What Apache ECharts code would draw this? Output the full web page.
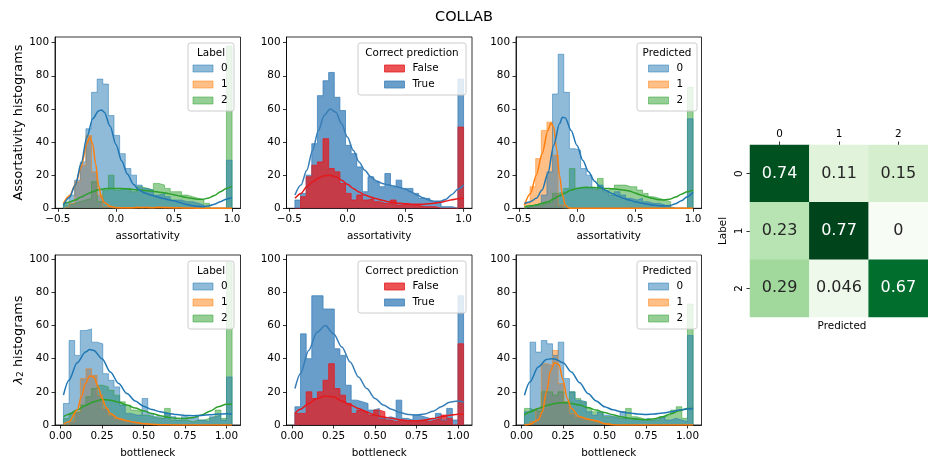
<!DOCTYPE html>
<html>
<head>
<meta charset="utf-8">
<title>COLLAB</title>
<script src="https://cdn.jsdelivr.net/npm/echarts@6/dist/echarts.min.js"></script>
<style>
  html, body { margin: 0; padding: 0; background: #fff; }
  #chart { width: 928px; height: 460px; }
</style>
</head>
<body>
<div id="chart"></div>
<script>
// bins: every assortativity panel shares one set of bins, every bottleneck panel another
const assortBinStart = -0.452;
const assortBinWidth = 0.0484;
const bottleBinStart = 0.017;
const bottleBinWidth = 0.0339;

// assortativity histograms (30 bins)
const assortLabel0 = [3, 8, 17, 28, 48, 70, 78, 75, 56, 44, 33, 24, 20, 14, 12, 11, 8, 9, 7, 5, 5, 4, 4, 3, 2, 0, 0, 0, 0, 29];
const assortLabel1 = [1, 3, 16, 26, 44, 22, 8, 1, 0, 0, 0, 0, 1, 0, 1, 0, 1, 0, 0, 0, 0, 0, 0, 0, 0, 0, 0, 0, 0, 0];
const assortLabel2 = [2, 3, 4, 5, 6, 16, 4, 11, 20, 11, 12, 12, 10, 13, 12, 11, 15, 14, 12, 10, 10, 8, 7, 6, 5, 3, 0, 0, 0, 98];
const assortFalse = [0, 7, 19, 26, 28, 42, 24, 22, 15, 9, 5, 8, 5, 6, 4, 3, 3, 5, 2, 3, 2, 2, 1, 1, 1, 0, 0, 0, 0, 49];
const assortTrue = [5, 9, 20, 39, 68, 77, 82, 67, 59, 38, 33, 25, 10, 19, 16, 13, 21, 13, 17, 12, 12, 9, 6, 6, 4, 3, 1, 1, 0, 78];
const assortPred0 = [1, 2, 3, 8, 22, 69, 93, 70, 36, 35, 24, 20, 12, 14, 10, 8, 10, 8, 6, 5, 6, 4, 3, 3, 2, 1, 0, 0, 0, 54];
const assortPred1 = [3, 13, 30, 47, 52, 32, 2, 0, 0, 0, 0, 0, 0, 0, 0, 0, 0, 0, 0, 0, 0, 0, 0, 0, 0, 0, 0, 0, 0, 0];
const assortPred2 = [1, 2, 2, 3, 4, 9, 10, 12, 24, 12, 13, 12, 11, 18, 11, 12, 14, 14, 13, 13, 11, 9, 7, 6, 5, 4, 0, 0, 0, 73];

// bottleneck histograms (30 bins)
const bottleLabel0 = [13, 51, 42, 57, 58, 50, 49, 31, 27, 23, 12, 7, 6, 6, 16, 7, 5, 4, 7, 5, 3, 5, 4, 5, 3, 2, 5, 6, 3, 29];
const bottleLabel1 = [0, 2, 8, 28, 34, 30, 18, 10, 6, 4, 3, 2, 1, 1, 1, 0, 0, 0, 0, 0, 0, 0, 0, 0, 0, 0, 0, 0, 0, 0];
const bottleLabel2 = [4, 7, 8, 12, 17, 22, 24, 23, 21, 18, 14, 12, 9, 8, 6, 5, 4, 4, 10, 3, 3, 3, 2, 3, 3, 4, 5, 9, 4, 98];
const bottleFalse = [7, 7, 20, 16, 20, 27, 37, 22, 18, 13, 7, 9, 8, 6, 9, 8, 3, 2, 3, 2, 2, 2, 3, 2, 3, 4, 6, 4, 0, 49];
const bottleTrue = [11, 55, 40, 78, 78, 70, 70, 46, 42, 24, 15, 14, 13, 9, 10, 4, 5, 4, 15, 4, 3, 6, 5, 4, 4, 7, 3, 10, 3, 78];
const bottlePred0 = [8, 50, 44, 51, 49, 42, 50, 28, 20, 15, 14, 8, 6, 8, 6, 5, 5, 8, 4, 4, 3, 4, 3, 4, 5, 3, 4, 3, 2, 54];
const bottlePred1 = [0, 2, 10, 37, 36, 45, 25, 14, 7, 5, 4, 3, 2, 1, 1, 0, 0, 0, 0, 0, 0, 0, 0, 0, 0, 0, 0, 0, 0, 0];
const bottlePred2 = [10, 9, 8, 20, 20, 18, 20, 14, 20, 16, 14, 10, 8, 7, 5, 5, 4, 4, 10, 5, 4, 3, 3, 3, 5, 6, 9, 11, 4, 73];

// kde curves, [x, count-scaled density]
const kdeAssortLabel0 = [[-0.452, 2], [-0.4, 6.5], [-0.35, 14], [-0.3, 27], [-0.25, 43], [-0.2, 54], [-0.15, 58.8], [-0.125, 59.4], [-0.1, 58], [-0.05, 49.5], [0, 38.5], [0.05, 28.5], [0.1, 20.5], [0.15, 14.5], [0.2, 11], [0.25, 9.2], [0.3, 8], [0.35, 7], [0.4, 6], [0.45, 5.2], [0.5, 4.5], [0.55, 3.5], [0.6, 2.5], [0.65, 1.7], [0.7, 1.2], [0.75, 1.1], [0.8, 1.5], [0.85, 2.5], [0.9, 4], [0.95, 5.5], [1.0, 6.5]];
const kdeAssortLabel1 = [[-0.452, 3], [-0.4, 7.5], [-0.35, 14], [-0.3, 25], [-0.25, 39], [-0.225, 43], [-0.2, 39], [-0.175, 27], [-0.15, 14], [-0.125, 6.5], [-0.1, 3.5], [-0.05, 1.2], [0, 0.5], [0.1, 0.3], [0.2, 0.5], [0.3, 0.4], [0.4, 0.5], [0.5, 0.4], [0.6, 0.2], [0.7, 0.1], [0.8, 0], [1.0, 0]];
const kdeAssortLabel2 = [[-0.452, 2.6], [-0.4, 3.8], [-0.35, 5], [-0.3, 6.8], [-0.25, 8.5], [-0.2, 10], [-0.15, 11.2], [-0.1, 11.8], [-0.05, 12], [0, 12], [0.05, 11.9], [0.1, 11.7], [0.15, 11.4], [0.2, 11.1], [0.25, 10.8], [0.3, 10.4], [0.35, 10], [0.4, 9.5], [0.45, 8.9], [0.5, 8.2], [0.55, 7.4], [0.6, 6.6], [0.65, 6], [0.7, 5.5], [0.75, 5.5], [0.8, 6.2], [0.85, 7.8], [0.9, 10], [0.95, 12], [1.0, 13.4]];
const kdeAssortFalse = [[-0.452, 6], [-0.4, 9], [-0.35, 13], [-0.3, 16], [-0.25, 18.3], [-0.2, 19.7], [-0.15, 20], [-0.1, 19], [-0.05, 17], [0, 14.5], [0.05, 12], [0.1, 9.8], [0.15, 8], [0.2, 6.8], [0.25, 5.8], [0.3, 4.8], [0.35, 4], [0.4, 3.4], [0.45, 3], [0.5, 2.7], [0.55, 2.5], [0.6, 2.4], [0.65, 2.5], [0.7, 2.7], [0.75, 3], [0.8, 3.6], [0.85, 4.4], [0.9, 5.2], [0.95, 5.8], [1.0, 6]];
const kdeAssortTrue = [[-0.452, 8], [-0.4, 14], [-0.35, 23], [-0.3, 35], [-0.25, 47], [-0.2, 56], [-0.15, 60], [-0.1, 58], [-0.05, 51], [0, 43], [0.05, 35], [0.1, 28], [0.15, 23], [0.2, 19], [0.25, 16.5], [0.3, 15], [0.35, 14.2], [0.4, 13.5], [0.45, 12.6], [0.5, 11.5], [0.55, 9.8], [0.6, 8], [0.65, 6.3], [0.7, 5], [0.75, 4.2], [0.8, 4.2], [0.85, 5.5], [0.9, 8.3], [0.95, 11.5], [1.0, 14]];
const kdeAssortPred0 = [[-0.452, 3], [-0.4, 4], [-0.35, 6], [-0.3, 11], [-0.25, 21], [-0.2, 38], [-0.15, 51], [-0.125, 55], [-0.1, 54.5], [-0.05, 47], [0, 38], [0.05, 29], [0.1, 22], [0.15, 16.5], [0.2, 13], [0.25, 10.8], [0.3, 9], [0.35, 7.4], [0.4, 6], [0.45, 5], [0.5, 4], [0.55, 3.2], [0.6, 2.6], [0.65, 2], [0.7, 1.6], [0.75, 1.4], [0.8, 1.7], [0.85, 2.8], [0.9, 4.6], [0.95, 7], [1.0, 9.7]];
const kdeAssortPred1 = [[-0.452, 2], [-0.4, 9], [-0.35, 20], [-0.3, 33], [-0.25, 47], [-0.225, 51.5], [-0.2, 49], [-0.175, 36], [-0.15, 20], [-0.125, 8], [-0.1, 2], [-0.075, 0.4], [-0.05, 0], [0, 0], [1.0, 0]];
const kdeAssortPred2 = [[-0.452, 1], [-0.4, 1.5], [-0.35, 2], [-0.3, 3], [-0.25, 4], [-0.2, 5.7], [-0.15, 7.5], [-0.1, 9.3], [-0.05, 11], [0, 12], [0.05, 12.5], [0.1, 12.6], [0.15, 12.5], [0.2, 12.3], [0.25, 12], [0.3, 11.8], [0.35, 11.5], [0.4, 11], [0.45, 10.5], [0.5, 9.3], [0.55, 8], [0.6, 7], [0.65, 6], [0.7, 5.2], [0.75, 5], [0.8, 5.5], [0.85, 6.8], [0.9, 8.5], [0.95, 10], [1.0, 11]];

const kdeBottleLabel0 = [[0.017, 18], [0.05, 27], [0.1, 37.5], [0.15, 44], [0.175, 45.5], [0.2, 45], [0.25, 40], [0.3, 32], [0.35, 25], [0.4, 19], [0.45, 14.5], [0.5, 11.3], [0.55, 9.3], [0.6, 8], [0.65, 7], [0.7, 6.3], [0.75, 5.8], [0.8, 5.6], [0.85, 5.8], [0.9, 6.2], [0.95, 6.6], [1.0, 6.8], [1.034, 6.6]];
const kdeBottleLabel1 = [[0.017, 0.5], [0.05, 2], [0.1, 9], [0.125, 17], [0.15, 25], [0.175, 29.5], [0.2, 29], [0.225, 23.5], [0.25, 16], [0.275, 10.5], [0.3, 7], [0.35, 3.8], [0.4, 2.5], [0.45, 1.6], [0.5, 0.8], [0.55, 0.4], [0.6, 0.2], [0.7, 0], [1.034, 0]];
const kdeBottleLabel2 = [[0.017, 5], [0.05, 6.5], [0.1, 9], [0.15, 11.8], [0.2, 14], [0.25, 15.4], [0.3, 15], [0.35, 13.7], [0.4, 12], [0.45, 10.2], [0.5, 8.5], [0.55, 7], [0.6, 5.6], [0.65, 4.6], [0.7, 4], [0.75, 3.9], [0.8, 4.5], [0.85, 6], [0.9, 8.3], [0.95, 11], [1.0, 12.5], [1.034, 12.5]];
const kdeBottleFalse = [[0.017, 7], [0.05, 9.5], [0.1, 13], [0.15, 16], [0.2, 17.5], [0.25, 17], [0.3, 14.5], [0.35, 12.2], [0.4, 10], [0.45, 7.8], [0.5, 6], [0.55, 4.9], [0.6, 4], [0.65, 3.2], [0.7, 2.6], [0.75, 2.5], [0.8, 3], [0.85, 3.9], [0.9, 5], [0.95, 5.9], [1.0, 6.5], [1.034, 6.5]];
const kdeBottleTrue = [[0.017, 22], [0.05, 31], [0.1, 45], [0.15, 56], [0.2, 60], [0.25, 55], [0.3, 47], [0.35, 38], [0.4, 29], [0.45, 22], [0.5, 16], [0.55, 12], [0.6, 9.5], [0.65, 7.5], [0.7, 6.4], [0.75, 6], [0.8, 6.6], [0.85, 8.3], [0.9, 11], [0.95, 13.8], [1.0, 14.5], [1.034, 13.7]];
const kdeBottlePred0 = [[0.017, 18], [0.05, 26], [0.1, 35], [0.15, 39.5], [0.18, 40], [0.2, 39.8], [0.25, 37.5], [0.3, 32], [0.35, 25.5], [0.4, 19], [0.45, 14.5], [0.5, 11], [0.55, 9.2], [0.6, 8], [0.65, 7.2], [0.7, 6.6], [0.75, 6.4], [0.8, 6.6], [0.85, 7.2], [0.9, 8], [0.95, 9], [1.0, 9.7], [1.034, 10]];
const kdeBottlePred1 = [[0.017, 0], [0.05, 0.5], [0.1, 3], [0.125, 8], [0.15, 20], [0.175, 33], [0.2, 37.5], [0.225, 36.5], [0.25, 27], [0.275, 16], [0.3, 10], [0.35, 5], [0.4, 3.5], [0.45, 2.5], [0.5, 0.8], [0.55, 0.1], [0.6, 0], [1.034, 0]];
const kdeBottlePred2 = [[0.017, 6], [0.05, 7.8], [0.1, 10], [0.15, 11.8], [0.2, 13], [0.25, 13.5], [0.3, 13], [0.35, 12], [0.4, 10.5], [0.45, 9], [0.5, 7.5], [0.55, 6.2], [0.6, 5], [0.65, 4.1], [0.7, 3.5], [0.75, 3.2], [0.8, 3.8], [0.85, 5], [0.9, 6.8], [0.95, 8.6], [1.0, 10], [1.034, 10]];

// confusion matrix (rows = Label, cols = Predicted)
const cmLabels = ['0', '1', '2'];
const cmValues = [
  [0.74, 0.11, 0.15],
  [0.23, 0.77, 0],
  [0.29, 0.046, 0.67]
];

const assortTicks = [-0.5, 0, 0.5, 1];
const bottleTicks = [0, 0.25, 0.5, 0.75, 1];
const countTicks = [0, 20, 40, 60, 80, 100];

// ---------------------------------------------------------------
const font = 'DejaVu Sans';
const fs = 10.4;
const tabBlue = [31, 119, 180], tabOrange = [255, 127, 14], tabGreen = [44, 160, 44];
const setRed = [228, 26, 28], setBlue = [55, 126, 184];
const greens = ['#f7fcf5', '#e5f5e0', '#c7e9c0', '#a1d99b', '#74c476', '#41ab5d', '#238b45', '#006d2c', '#00441b'];

const colLeft = [55, 286.5, 516];
const colWidth = 185.5;
const rows = [
  { top: 37, height: 171.3, ymax: 103.4, min: -0.5246, max: 1.0726, ticks: assortTicks,
    fmt: v => (v < 0 ? '\u2212' : '') + Math.abs(v).toFixed(1), xName: 'assortativity',
    yName: 'Assortativity histograms', start: assortBinStart, width: assortBinWidth },
  { top: 255, height: 170, ymax: 102.6, min: -0.0339, max: 1.0847, ticks: bottleTicks,
    fmt: v => v.toFixed(2), xName: 'bottleneck',
    yName: '{i|\u03bb}{s|2} histograms', start: bottleBinStart, width: bottleBinWidth }
];

const labelHues = (c0, c1, c2, k0, k1, k2) => [
  { name: '0', counts: c0, kde: k0, color: tabBlue },
  { name: '1', counts: c1, kde: k1, color: tabOrange },
  { name: '2', counts: c2, kde: k2, color: tabGreen }
];
const correctHues = (cf, ct, kf, kt) => [
  { name: 'False', counts: cf, kde: kf, color: setRed },
  { name: 'True', counts: ct, kde: kt, color: setBlue }
];

const panels = [
  { row: 0, col: 0, title: 'Label', alpha: 0.5, hues: labelHues(assortLabel0, assortLabel1, assortLabel2, kdeAssortLabel0, kdeAssortLabel1, kdeAssortLabel2) },
  { row: 0, col: 1, title: 'Correct prediction', alpha: 0.75, hues: correctHues(assortFalse, assortTrue, kdeAssortFalse, kdeAssortTrue) },
  { row: 0, col: 2, title: 'Predicted', alpha: 0.5, hues: labelHues(assortPred0, assortPred1, assortPred2, kdeAssortPred0, kdeAssortPred1, kdeAssortPred2) },
  { row: 1, col: 0, title: 'Label', alpha: 0.5, hues: labelHues(bottleLabel0, bottleLabel1, bottleLabel2, kdeBottleLabel0, kdeBottleLabel1, kdeBottleLabel2) },
  { row: 1, col: 1, title: 'Correct prediction', alpha: 0.75, hues: correctHues(bottleFalse, bottleTrue, kdeBottleFalse, kdeBottleTrue) },
  { row: 1, col: 2, title: 'Predicted', alpha: 0.5, hues: labelHues(bottlePred0, bottlePred1, bottlePred2, kdeBottlePred0, kdeBottlePred1, kdeBottlePred2) }
];

// legend boxes per column: box left, box width, patch offset
const legendLayout = [
  { left: 188, width: 46, patch: 4.5 },
  { left: 358, width: 108, patch: 26 },
  { left: 637, width: 60, patch: 11 }
];

function rgba(c, a) { return 'rgba(' + c.join(',') + ',' + a + ')'; }

// outline of a step histogram, built from bin counts
function stepData(counts, start, width) {
  const pts = [[start, 0]];
  counts.forEach((c, i) => pts.push([start + i * width, c]));
  const end = start + counts.length * width;
  pts.push([end, counts[counts.length - 1]]);
  pts.push([end, 0]);
  return pts;
}

const grids = [], xAxes = [], yAxes = [], series = [], legends = [], graphics = [];

panels.forEach(p => {
  const r = rows[p.row];
  const gi = grids.length;
  grids.push({ left: colLeft[p.col], top: r.top, width: colWidth, height: r.height,
    show: true, borderColor: '#000', borderWidth: 0.8, backgroundColor: 'transparent' });

  xAxes.push({
    type: 'value', gridIndex: gi, min: r.min, max: r.max,
    axisLine: { show: true, onZero: false, lineStyle: { color: '#000', width: 0.8 } },
    axisTick: { show: true, length: 3.5, customValues: r.ticks, lineStyle: { color: '#000', width: 0.8 } },
    axisLabel: { customValues: r.ticks, formatter: r.fmt, fontSize: fs, fontFamily: font, color: '#000', margin: 6 },
    splitLine: { show: false },
    name: r.xName, nameLocation: 'middle', nameGap: 23,
    nameTextStyle: { fontSize: fs, fontFamily: font, color: '#000' }
  });

  const yAxis = {
    type: 'value', gridIndex: gi, min: 0, max: r.ymax,
    axisLine: { show: true, onZero: false, lineStyle: { color: '#000', width: 0.8 } },
    axisTick: { show: true, length: 3.5, customValues: countTicks, lineStyle: { color: '#000', width: 0.8 } },
    axisLabel: { customValues: countTicks, fontSize: fs, fontFamily: font, color: '#000', margin: 6 },
    splitLine: { show: false }
  };
  if (p.col === 0) {
    Object.assign(yAxis, {
      name: r.yName, nameLocation: 'middle', nameRotate: 90, nameGap: 29,
      nameTextStyle: { fontSize: 12.8, fontFamily: font, color: '#000',
        rich: { i: { fontStyle: 'italic', fontSize: 12.8, fontFamily: font },
                s: { fontSize: 9, fontFamily: font, verticalAlign: 'bottom' } } }
    });
  }
  yAxes.push(yAxis);

  // seaborn draws the last hue level first, so level 0 ends on top
  p.hues.slice().reverse().forEach(h => {
    series.push({
      type: 'line', name: h.name, xAxisIndex: gi, yAxisIndex: gi,
      data: stepData(h.counts, r.start, r.width), step: 'end', symbol: 'none',
      lineStyle: { color: rgba(h.color, p.alpha), width: 1 },
      areaStyle: { color: rgba(h.color, p.alpha), opacity: 1 },
      itemStyle: { color: rgba(h.color, p.alpha) },
      silent: true, z: 2
    });
  });
  p.hues.slice().reverse().forEach(h => {
    series.push({
      type: 'line', name: 'kde ' + h.name, xAxisIndex: gi, yAxisIndex: gi,
      data: h.kde, smooth: 0.3, smoothMonotone: 'x', symbol: 'none',
      lineStyle: { color: rgba(h.color, 1), width: 1.5 },
      silent: true, z: 3
    });
  });

  // legend box, title and entries
  const L = legendLayout[p.col];
  const boxTop = r.top + 6;
  const boxH = p.hues.length === 3 ? 68 : 52;
  graphics.push({ type: 'rect', z: 50,
    shape: { x: L.left, y: boxTop, width: L.width, height: boxH, r: 2.5 },
    style: { fill: 'rgba(255,255,255,0.8)', stroke: '#cccccc', lineWidth: 1 } });
  graphics.push({ type: 'text', z: 60, x: L.left + L.width / 2, y: boxTop + 10,
    style: { text: p.title, fontSize: fs, fontFamily: font, fill: '#000', align: 'center', verticalAlign: 'middle' } });
  legends.push({
    orient: 'vertical', left: L.left + L.patch, top: boxTop + 19.5, padding: 0,
    itemWidth: 20, itemHeight: 7, itemGap: 4, selectedMode: false, z: 70,
    textStyle: { fontSize: fs, fontFamily: font, color: '#000', lineHeight: 12, padding: [0, 0, 0, 3] },
    data: p.hues.map(h => ({ name: h.name, icon: 'rect',
      itemStyle: { color: rgba(h.color, p.alpha), borderColor: rgba(h.color, p.alpha), borderWidth: 1 } }))
  });
});

// confusion matrix heatmap
const hmGrid = grids.length;
grids.push({ left: 750, top: 145, width: 184, height: 172, show: false });
xAxes.push({
  type: 'category', gridIndex: hmGrid, position: 'top', data: cmLabels,
  axisLine: { show: false },
  axisTick: { show: true, alignWithLabel: true, length: 3.5, lineStyle: { color: '#000', width: 0.8 } },
  axisLabel: { fontSize: fs, fontFamily: font, color: '#000', margin: 6 },
  splitLine: { show: false }
});
yAxes.push({
  type: 'category', gridIndex: hmGrid, data: cmLabels, inverse: true,
  axisLine: { show: false },
  axisTick: { show: true, alignWithLabel: true, length: 3.5, lineStyle: { color: '#000', width: 0.8 } },
  axisLabel: { rotate: 90, fontSize: fs, fontFamily: font, color: '#000', margin: 6 },
  splitLine: { show: false },
  name: 'Label', nameLocation: 'middle', nameRotate: 90, nameGap: 22,
  nameTextStyle: { fontSize: fs, fontFamily: font, color: '#000' }
});
const hmData = [];
cmValues.forEach((row, i) => row.forEach((v, j) => {
  hmData.push({ value: [j, i, v], label: { color: v > 0.5 ? '#ffffff' : '#262626' } });
}));
const hmIndex = series.length;
series.push({
  type: 'heatmap', xAxisIndex: hmGrid, yAxisIndex: hmGrid, data: hmData,
  label: { show: true, fontSize: 16, fontFamily: font, formatter: p => String(p.value[2]) },
  itemStyle: { borderWidth: 0 }, emphasis: { disabled: true }, silent: true
});
graphics.push({ type: 'text', z: 60, x: 842, y: 326,
  style: { text: 'Predicted', fontSize: fs, fontFamily: font, fill: '#000', align: 'center', verticalAlign: 'middle' } });

const chart = echarts.init(document.getElementById('chart'), null, { renderer: 'canvas' });
chart.setOption({
  animation: false,
  backgroundColor: '#fff',
  textStyle: { fontFamily: font },
  title: { text: 'COLLAB', left: 'center', top: 5,
    textStyle: { fontSize: 14.5, fontWeight: 'normal', fontFamily: font, color: '#000' } },
  grid: grids,
  xAxis: xAxes,
  yAxis: yAxes,
  legend: legends,
  visualMap: { type: 'continuous', show: false, seriesIndex: hmIndex, dimension: 2,
    min: 0, max: 0.77, inRange: { color: greens } },
  graphic: graphics,
  series: series
});
</script>
</body>
</html>
